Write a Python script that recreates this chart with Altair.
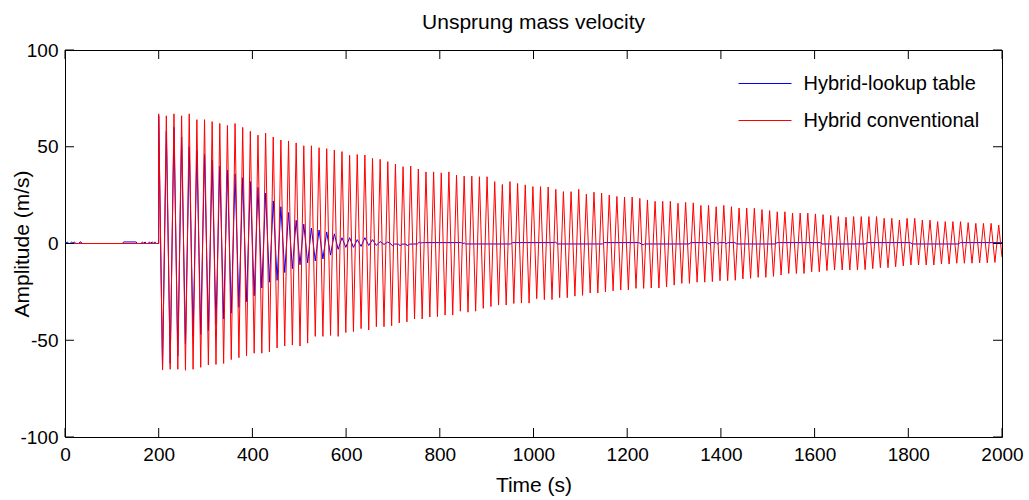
import altair as alt
import pandas as pd

FONT = "Liberation Sans"
BLUE_NAME = "Hybrid-lookup table"
RED_NAME = "Hybrid conventional"

# ---- Red (Hybrid conventional) ----
red_lead_t = [0, 200]
red_lead_v = [0, 0]
red_peak_t = [
    200.0, 216.3, 232.6, 248.9, 265.2, 281.5, 297.8, 314.1, 330.4, 346.7,
    363.0, 379.3, 395.6, 411.9, 428.2, 444.5, 460.8, 477.1, 493.4, 509.7,
    526.0, 542.3, 558.6, 574.9, 591.2, 607.5, 623.8, 640.1, 656.4, 672.7,
    689.0, 705.3, 721.6, 737.9, 754.2, 770.5, 786.8, 803.1, 819.4, 835.7,
    852.0, 868.3, 884.6, 900.9, 917.2, 933.5, 949.8, 966.1, 982.4, 998.7,
    1015.0, 1031.3, 1047.6, 1063.9, 1080.2, 1096.5, 1112.8, 1129.1, 1145.4, 1161.7,
    1178.0, 1194.3, 1210.6, 1226.9, 1243.2, 1259.5, 1275.8, 1292.1, 1308.4, 1324.7,
    1341.0, 1357.3, 1373.6, 1389.9, 1406.2, 1422.5, 1438.8, 1455.1, 1471.4, 1487.7,
    1504.0, 1520.3, 1536.6, 1552.9, 1569.2, 1585.5, 1601.8, 1618.1, 1634.4, 1650.7,
    1667.0, 1683.3, 1699.6, 1715.9, 1732.2, 1748.5, 1764.8, 1781.1, 1797.4, 1813.7,
    1830.0, 1846.3, 1862.6, 1878.9, 1895.2, 1911.5, 1927.8, 1944.1, 1960.4, 1976.7,
    1993.0,
]
red_peak_v = [
    67, 66, 67, 66, 67, 64, 64, 63, 62, 61,
    62, 60, 58, 56, 57, 55, 53.5, 53, 52, 50.5,
    50.5, 49.5, 49, 48.3, 47.5, 45.6, 46, 45.7, 44, 43.5,
    42.3, 41, 39.7, 40, 38.5, 37, 37, 36.5, 37, 35.4,
    34.8, 34.8, 34.5, 34.5, 32, 30.5, 32, 31, 30.3, 29.4,
    29.4, 29.2, 28, 26.8, 26.8, 28, 25.5, 26.5, 26, 25,
    24.3, 24, 24, 23.3, 22.5, 21.8, 21.8, 21.8, 20.8, 21.2,
    21, 19.7, 19.7, 19, 19.7, 19, 18.3, 18.3, 18.2, 17.5,
    17, 16.4, 16.4, 15.7, 15.7, 15.7, 15.3, 14.9, 14.5, 13.9,
    13.6, 13.9, 13.9, 13.9, 13.9, 13, 13, 12.1, 13, 13,
    12.1, 12.1, 11.3, 11.3, 11.3, 11.3, 10.8, 10.4, 10.4, 10.4,
    9.5,
]
red_trough_t = [
    208.2, 224.5, 240.8, 257.1, 273.4, 289.7, 306.0, 322.3, 338.6, 354.9,
    371.2, 387.5, 403.8, 420.1, 436.4, 452.7, 469.0, 485.3, 501.6, 517.9,
    534.2, 550.5, 566.8, 583.1, 599.4, 615.7, 632.0, 648.3, 664.6, 680.9,
    697.2, 713.5, 729.8, 746.1, 762.4, 778.7, 795.0, 811.3, 827.6, 843.9,
    860.2, 876.5, 892.8, 909.1, 925.4, 941.7, 958.0, 974.3, 990.6, 1006.9,
    1023.2, 1039.5, 1055.8, 1072.1, 1088.4, 1104.7, 1121.0, 1137.3, 1153.6, 1169.9,
    1186.2, 1202.5, 1218.8, 1235.1, 1251.4, 1267.7, 1284.0, 1300.3, 1316.6, 1332.9,
    1349.2, 1365.5, 1381.8, 1398.1, 1414.4, 1430.7, 1447.0, 1463.3, 1479.6, 1495.9,
    1512.2, 1528.5, 1544.8, 1561.1, 1577.4, 1593.7, 1610.0, 1626.3, 1642.6, 1658.9,
    1675.2, 1691.5, 1707.8, 1724.1, 1740.4, 1756.7, 1773.0, 1789.3, 1805.6, 1821.9,
    1838.2, 1854.5, 1870.8, 1887.1, 1903.4, 1919.7, 1936.0, 1952.3, 1968.6, 1984.9,
]
red_trough_v = [
    -65.4, -65, -65, -65.5, -65, -64, -62.8, -62.5, -62, -60,
    -59, -58, -56.7, -56.7, -56, -54, -53, -52.5, -53, -51.5,
    -48, -48, -47.5, -48, -46, -45.5, -44, -44.7, -43, -43,
    -42.5, -41, -40.5, -39, -39, -38, -37.8, -37, -37, -35,
    -35.5, -35, -33.5, -32.6, -31.8, -31.8, -31, -30.8, -30.8, -28.5,
    -29, -29, -28, -28, -27.2, -26.8, -25.6, -25.6, -25, -24.5,
    -24, -24, -23.2, -23.2, -23, -23, -22.5, -21.5, -20.6, -20.6,
    -20, -20, -19.7, -19.2, -19.2, -19, -18.3, -18, -17.5, -17.5,
    -17, -16.3, -15.5, -15.5, -15.5, -14.6, -14.6, -14, -13.7, -13.7,
    -13.7, -13.7, -13.5, -13, -12.5, -12.5, -12, -11.6, -11.1, -11.1,
    -11.1, -11.1, -10.6, -10.6, -10.2, -10.2, -10.2, -10, -10, -9.8,
]
red_tail_t = [2000]
red_tail_v = [-7]

# ---- Blue (Hybrid-lookup table) ----
blue_lead_t = [0, 2, 5, 8, 11, 14, 17, 20, 23, 30, 32, 34, 36, 123, 125,
               152, 154, 163, 165, 168, 171, 173, 178, 180, 183, 186, 189, 192, 194, 200]
blue_lead_v = [0.8, 0.2, 0.8, 0, 0, 0.8, 0.2, 0.8, 0, 0, 0.8, 0.8, 0, 0, 0.8,
               0.8, 0, 0, 0.8, 0.2, 0.8, 0, 0, 0.8, 0.2, 0.8, 0.2, 0.8, 0, 0]
blue_peak_t = red_peak_t[:30]
blue_peak_v = [66, 58, 60, 55, 50, 48, 46, 43, 40, 38,
               36, 34, 32, 29, 26, 22, 19, 16, 12, 10,
               8, 7, 6, 5, 3, 3, 2, 3, 2, 1]
blue_trough_t = red_trough_t[:30]
blue_trough_v = [-65, -62, -58, -52, -48, -47, -45, -42, -39, -36,
                 -33, -30, -27, -23, -20, -19, -15, -13, -11, -10,
                 -9, -8, -6, -3, -2, -2, -1.5, -1, -1, -0.5]
blue_tail_t = [689.0, 692, 696, 699, 703, 712, 715, 719, 728, 731, 735,
               752, 756, 759, 763, 770, 846, 849, 852, 855, 951, 955,
               1044, 1047, 1051, 1147, 1151, 1225, 1230, 1234, 1237, 1240,
               1332, 1336, 1372, 1375, 1379, 1390, 1393, 1397, 1408, 1411, 1415,
               1430, 1434, 1516, 1520, 1612, 1616, 1708, 1712, 1804, 1808,
               1907, 1911, 2000]
blue_tail_v = [0.8, 0.3, -0.3, -1.2, -0.3, -0.3, -1.2, -0.3, -0.3, -1.3, -0.3,
               -0.25, 0.7, 0.2, 0.45, 0.45, 0.45, -0.1, 0.3, -0.25, -0.25, 0.45,
               0.45, 0.8, -0.25, -0.25, 0.45, 0.45, -0.25, -0.7, -0.25, -0.25,
               -0.25, 0.45, 0.45, -0.2, 0.45, 0.45, -0.2, 0.45, 0.45, -0.2, 0.45,
               0.45, -0.25, -0.25, 0.45, 0.45, -0.25, -0.25, 0.45, 0.45, -0.25,
               -0.25, 0.45, 0.45]

x_ticks = [0, 200, 400, 600, 800, 1000, 1200, 1400, 1600, 1800, 2000]
y_ticks = [-100, -50, 0, 50, 100]

W, H = 937, 387
TICK = 9


def build(lead_t, lead_v, pk_t, pk_v, tr_t, tr_v, tail_t, tail_v, name):
    ts, vs = list(lead_t), list(lead_v)
    for i in range(len(pk_v)):
        ts.append(pk_t[i])
        vs.append(pk_v[i])
        if i < len(tr_v):
            ts.append(tr_t[i])
            vs.append(tr_v[i])
    ts += list(tail_t)
    vs += list(tail_v)
    return pd.DataFrame({"t": ts, "v": vs, "i": list(range(len(ts))), "series": name})


red_df = build(red_lead_t, red_lead_v, red_peak_t, red_peak_v,
               red_trough_t, red_trough_v, red_tail_t, red_tail_v, RED_NAME)
blue_df = build(blue_lead_t, blue_lead_v, blue_peak_t, blue_peak_v,
                blue_trough_t, blue_trough_v, blue_tail_t, blue_tail_v, BLUE_NAME)

xs = alt.Scale(domain=[0, 2000], nice=False, zero=False)
ys = alt.Scale(domain=[-100, 100], nice=False, zero=False)
cs = alt.Scale(domain=[BLUE_NAME, RED_NAME], range=["#0000ff", "#ff0000"])

x_axis = alt.Axis(values=x_ticks, title="Time (s)", grid=False, ticks=False, domain=False,
                  labelExpr="'' + datum.value",
                  labelFontSize=19, labelPadding=8, labelFont=FONT, labelColor="black",
                  titleFont=FONT, titleFontSize=21, titleFontWeight="normal",
                  titleColor="black", titlePadding=10, labelFlush=False)
y_axis = alt.Axis(values=y_ticks, title="Amplitude (m/s)", grid=False, ticks=False, domain=False,
                  labelExpr="'' + datum.value",
                  labelFontSize=19, labelPadding=7, labelFont=FONT, labelColor="black",
                  titleFont=FONT, titleFontSize=21, titleFontWeight="normal",
                  titleColor="black", titleX=-43, titleY=H / 2, titleAngle=270,
                  titleBaseline="middle", titleAlign="center", labelFlush=False)

legend = alt.Legend(title=None, orient="none", legendX=673, legendY=6.5,
                    symbolType="stroke", symbolSize=2809, symbolStrokeWidth=1,
                    labelFont=FONT, labelFontSize=20, labelColor="black", labelLimit=400,
                    labelOffset=11.5, rowPadding=0, padding=0)

blue_line = alt.Chart(blue_df).mark_line(strokeWidth=1, clip=True).encode(
    x=alt.X("t:Q", scale=xs, axis=x_axis),
    y=alt.Y("v:Q", scale=ys, axis=y_axis),
    color=alt.Color("series:N", scale=cs, legend=legend),
    order=alt.Order("i:Q"),
)
red_line = alt.Chart(red_df).mark_line(strokeWidth=1, clip=True).encode(
    x=alt.X("t:Q", scale=xs, axis=x_axis),
    y=alt.Y("v:Q", scale=ys, axis=y_axis),
    color=alt.Color("series:N", scale=cs, legend=legend),
    order=alt.Order("i:Q"),
)

xt_df = pd.DataFrame({"t": x_ticks})
yt_df = pd.DataFrame({"v": y_ticks})
tick_style = dict(color="black", strokeWidth=1)
bottom_ticks = alt.Chart(xt_df).mark_rule(**tick_style).encode(
    x=alt.X("t:Q", scale=xs, axis=x_axis), y=alt.value(H), y2=alt.value(H - TICK))
top_ticks = alt.Chart(xt_df).mark_rule(**tick_style).encode(
    x=alt.X("t:Q", scale=xs, axis=x_axis), y=alt.value(0), y2=alt.value(TICK))
left_ticks = alt.Chart(yt_df).mark_rule(**tick_style).encode(
    y=alt.Y("v:Q", scale=ys, axis=y_axis), x=alt.value(0), x2=alt.value(TICK))
right_ticks = alt.Chart(yt_df).mark_rule(**tick_style).encode(
    y=alt.Y("v:Q", scale=ys, axis=y_axis), x=alt.value(W), x2=alt.value(W - TICK))

chart = alt.layer(
    blue_line, red_line, bottom_ticks, top_ticks, left_ticks, right_ticks
).properties(
    width=W, height=H,
    title=alt.TitleParams("Unsprung mass velocity", font=FONT, fontSize=21,
                          fontWeight="normal", color="black", anchor="middle", offset=8),
    autosize=alt.AutoSizeParams(type="none"),
    padding={"left": 65, "top": 50, "right": 27, "bottom": 63},
    background="white",
).configure_view(stroke="black", strokeWidth=1)

chart.save("out.html", embed_options={"renderer": "svg", "actions": False})
